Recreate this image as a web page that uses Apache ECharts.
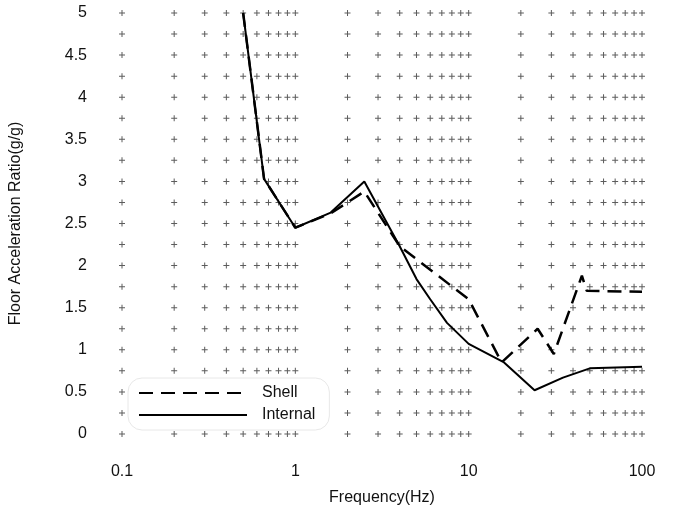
<!DOCTYPE html>
<html>
<head>
<meta charset="utf-8">
<script src="https://cdn.jsdelivr.net/npm/echarts@6/dist/echarts.min.js"></script>
<style>html,body{margin:0;padding:0;background:#fff}#c{width:675px;height:511px}</style>
</head>
<body>
<div id="c"></div>
<script>
// Data
var shellFreq = [0.5, 0.66, 1, 1.6, 2.5, 4, 10, 15.5, 25, 31, 45, 48, 100];
var shellRatio = [5.0, 3.03, 2.45, 2.62, 2.88, 2.23, 1.6, 0.85, 1.25, 0.95, 1.88, 1.70, 1.69];
var internalFreq = [0.5, 0.66, 1, 1.6, 2.5, 4, 5, 6, 7.5, 10, 16, 24, 35, 50, 100];
var internalRatio = [5.0, 3.03, 2.45, 2.63, 3.0, 2.23, 1.84, 1.6, 1.32, 1.07, 0.85, 0.52, 0.67, 0.78, 0.80];
// Grid cross positions (log-decade minor ticks and 0.25 steps)
var xGridTicks = [0.1,0.2,0.3,0.4,0.5,0.6,0.7,0.8,0.9,1,2,3,4,5,6,7,8,9,10,20,30,40,50,60,70,80,90,100];
var yGridTicks = [0,0.25,0.5,0.75,1,1.25,1.5,1.75,2,2.25,2.5,2.75,3,3.25,3.5,3.75,4,4.25,4.5,4.75,5];

function pairs(xs, ys){ return xs.map(function(x,i){ return [x, ys[i]]; }); }
var crosses = [];
xGridTicks.forEach(function(x){ yGridTicks.forEach(function(y){ crosses.push([x,y]); }); });

var FONT = 'Liberation Sans, Arial, sans-serif';
var chart = echarts.init(document.getElementById('c'), null, {renderer:'canvas'});
chart.setOption({
  animation: false,
  backgroundColor: '#fff',
  grid: {left: 121, right: 33, top: 13, bottom: 76, containLabel: false},
  xAxis: {
    type: 'log', min: 0.1, max: 100, logBase: 10,
    name: 'Frequency(Hz)', nameLocation: 'middle', nameGap: 56,
    nameTextStyle: {fontFamily: FONT, fontSize: 16, color: '#111'},
    axisLine: {show: false}, axisTick: {show: false}, splitLine: {show: false},
    axisLabel: {fontFamily: FONT, fontSize: 16, color: '#111', margin: 30}
  },
  yAxis: {
    type: 'value', min: 0, max: 5, interval: 0.5,
    name: 'Floor Acceleration Ratio(g/g)', nameLocation: 'middle', nameGap: 98,
    nameTextStyle: {fontFamily: FONT, fontSize: 16, color: '#111'},
    axisLine: {show: false}, axisTick: {show: false}, splitLine: {show: false},
    axisLabel: {fontFamily: FONT, fontSize: 16, color: '#111', margin: 35}
  },
  legend: {
    orient: 'vertical', left: 128, top: 378,
    padding: [7, 14, 7, 10], itemGap: 6, itemWidth: 108, itemHeight: 14,
    backgroundColor: '#fff',
    borderColor: '#e8e8e8', borderWidth: 1, borderRadius: 14,
    itemStyle: {opacity: 0},
    textStyle: {fontFamily: FONT, fontSize: 16, color: '#111', padding: [0,0,0,10]},
    data: ['Shell', 'Internal']
  },
  series: [
    {
      type: 'scatter', silent: true, data: crosses, z: 1,
      symbol: 'path://M-0.5,-3H0.5V-0.5H3V0.5H0.5V3H-0.5V0.5H-3V-0.5H-0.5Z',
      symbolSize: 6, itemStyle: {color: '#333'}
    },
    {
      name: 'Shell', type: 'line', data: pairs(shellFreq, shellRatio), z: 3,
      symbol: 'none', color: '#000',
      lineStyle: {color: '#000', width: 2.5, type: [14, 8]}
    },
    {
      name: 'Internal', type: 'line', data: pairs(internalFreq, internalRatio), z: 4,
      symbol: 'none', color: '#000',
      lineStyle: {color: '#000', width: 2}
    }
  ]
});
</script>
</body>
</html>
